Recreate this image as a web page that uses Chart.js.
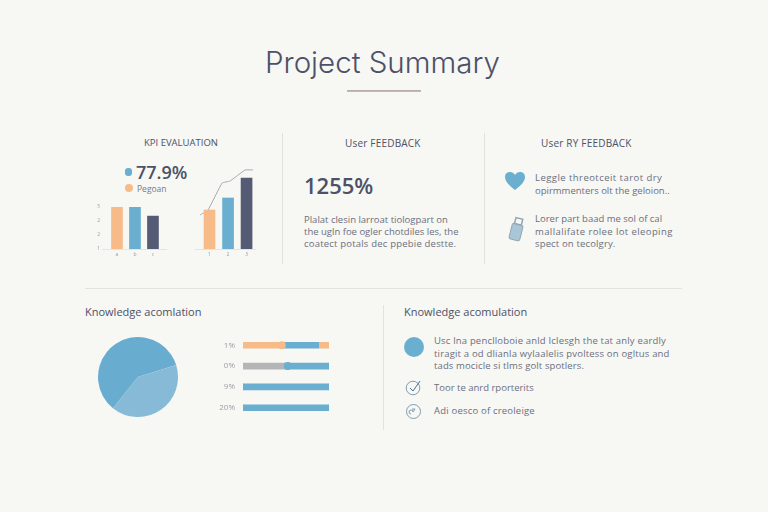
<!DOCTYPE html>
<html>
<head>
<meta charset="utf-8">
<script src="https://cdn.jsdelivr.net/npm/chart.js@4"></script>
<style>
html, body { margin: 0; padding: 0; background: #f7f7f3; }
#page { position: relative; width: 768px; height: 512px; overflow: hidden; background: #f7f7f3; font-family: 'Open Sans', sans-serif; color: #4c5168; }
.t { position: absolute; white-space: nowrap; line-height: 1; }
.rule { position: absolute; background: #e2e2e0; }
canvas { position: absolute; }
svg { position: absolute; }
</style>
</head>
<body>
<div id="page">
  <div class="t" style="left:265px;top:48px;font-family:Inter,sans-serif;font-size:29.5px;font-weight:300;">Project Summary</div>
  <div class="rule" style="left:347px;top:90px;width:74px;height:2px;background:linear-gradient(#a9a9b4,#f0b78a);"></div>

  <div class="t" style="left:144px;top:138px;font-size:9.5px;">KPI EVALUATION</div>
  <div class="t" style="left:345px;top:138px;font-size:10px;letter-spacing:.2px;">User FEEDBACK</div>
  <div class="t" style="left:541px;top:138px;font-size:10px;letter-spacing:.2px;">User RY FEEDBACK</div>

  <div class="rule" style="left:282px;top:133px;width:1px;height:131px;"></div>
  <div class="rule" style="left:484px;top:133px;width:1px;height:131px;"></div>
  <div class="rule" style="left:85px;top:288px;width:597px;height:1px;"></div>
  <div class="rule" style="left:383px;top:305px;width:1px;height:125px;"></div>

  <div style="position:absolute;left:125px;top:168px;width:7px;height:8px;border-radius:3px;background:#6aafcf;"></div>
  <div class="t" style="left:136px;top:163px;font-size:18px;font-weight:600;">77.9%</div>
  <div style="position:absolute;left:125px;top:184px;width:8px;height:8px;border-radius:4px;background:#f6bb88;"></div>
  <div class="t" style="left:137px;top:185px;font-size:8.5px;color:#777b8c;">Pegoan</div>

  <canvas id="chartKpiA" style="left:88px;top:197px;width:79px;height:66px;"></canvas>
  <canvas id="chartKpiB" style="left:195px;top:160px;width:61px;height:103px;"></canvas>

  <div class="t" style="left:304px;top:174px;font-size:22px;font-weight:600;">1255%</div>
  <div class="t" style="left:304px;top:215px;font-size:9.5px;color:#6b6f80;">Plalat clesin larroat tiologpart on</div>
  <div class="t" style="left:304px;top:227px;font-size:9.5px;color:#6b6f80;">the ugln foe ogler chotdiles les, the</div>
  <div class="t" style="left:304px;top:239px;font-size:9.5px;color:#6b6f80;letter-spacing:.2px;">coatect potals dec ppebie destte.</div>

  <svg style="left:504px;top:171px;" width="22" height="20" viewBox="0 0 22 20"><path d="M11 19 C6 15 1 11 1 6 C1 2 4 1 6 1 C8 1 10 2 11 4 C12 2 14 1 16 1 C18 1 21 2 21 6 C21 11 16 15 11 19 Z" fill="#6aafcf"/></svg>
  <div class="t" style="left:535px;top:173px;font-size:9.5px;color:#6b6f80;letter-spacing:.45px;">Leggle threotceit tarot dry</div>
  <div class="t" style="left:535px;top:186px;font-size:9.5px;color:#6b6f80;">opirmmenters olt the geloion..</div>

  <svg style="left:505px;top:216px;" width="22" height="28" viewBox="0 0 22 28"><g transform="rotate(14 11 14)"><rect x="6" y="8" width="11" height="16" rx="2" fill="#a9c6d6" stroke="#93a6b4" stroke-width="1"/><rect x="8" y="2" width="7" height="6" fill="none" stroke="#93a6b4" stroke-width="1.5"/></g></svg>
  <div class="t" style="left:535px;top:214px;font-size:9.5px;color:#6b6f80;">Lorer part baad me sol of cal</div>
  <div class="t" style="left:535px;top:227px;font-size:9.5px;color:#6b6f80;letter-spacing:.4px;">mallalifate rolee lot eleoping</div>
  <div class="t" style="left:535px;top:239px;font-size:9.5px;color:#6b6f80;letter-spacing:.15px;">spect on tecolgry.</div>

  <div class="t" style="left:85px;top:306px;font-size:11px;">Knowledge acomlation</div>
  <div class="t" style="left:404px;top:306px;font-size:11px;">Knowledge acomulation</div>

  <canvas id="chartShare" style="left:88px;top:327px;width:100px;height:100px;"></canvas>
  <canvas id="chartProgress" style="left:215px;top:322px;width:120px;height:109px;"></canvas>

  <div style="position:absolute;left:404px;top:337px;width:20px;height:20px;border-radius:10px;background:#6aafcf;"></div>
  <div class="t" style="left:434px;top:336px;font-size:9.5px;color:#6b6f80;letter-spacing:.18px;">Usc lna penclloboie anld Iclesgh the tat anly eardly</div>
  <div class="t" style="left:434px;top:349px;font-size:9.5px;color:#6b6f80;letter-spacing:.18px;">tiragit a od dlianla wylaalelis pvoltess on ogltus and</div>
  <div class="t" style="left:434px;top:361px;font-size:9.5px;color:#6b6f80;letter-spacing:.12px;">tads mocicle si tlms golt spotlers.</div>

  <svg style="left:405px;top:379px;" width="18" height="17" viewBox="0 0 18 17"><circle cx="8" cy="9" r="6.8" fill="none" stroke="#7f9db5" stroke-width="1"/><path d="M5 9 L8 12 L15 2" fill="none" stroke="#4f6f8c" stroke-width="1"/></svg>
  <div class="t" style="left:434px;top:383px;font-size:9.5px;color:#6b6f80;">Toor te anrd rporterits</div>
  <svg style="left:405px;top:403px;" width="17" height="17" viewBox="0 0 17 17"><circle cx="8.5" cy="8.5" r="7" fill="none" stroke="#7f9db5" stroke-width="1"/><path d="M7 6 H10 L8 9 A2 2 0 1 0 6 11" fill="none" stroke="#7f9db5" stroke-width="1"/></svg>
  <div class="t" style="left:434px;top:406px;font-size:9.5px;color:#6b6f80;letter-spacing:.2px;">Adi oesco of creoleige</div>
</div>

<script>
const kpiXA = [1, 2, 3];
const kpiValuesA = [3, 3, 2.35];
const kpiTickLabelsA = ['a', 'b', 'c'];
const kpiTicksA = ['1', '2', '2', '5'];
const kpiBarColors = ['#f6bb88', '#6aafcf', '#565b75'];

const kpiXB = [1, 2, 3];
const kpiValuesB = [39, 51, 71];
const kpiTickLabelsB = ['1', '2', '3'];
const trendX = [0.49, 0.92, 1.68, 2.11, 2.92, 3.35];
const trendY = [34, 39, 66, 68, 79, 79];

const shareLabels = ['Main', 'Other'];
const shareValues = [59.4, 40.6];
const shareColors = ['#68add0', '#87bad7'];

const progressLabels = ['1%', '0%', '9%', '20%'];
const progressFirst = [45, 49, 0, 0];
const progressSecond = [43, 51, 100, 100];
const progressThird = [12, 0, 0, 0];
const progressFirstColors = ['#f6bb88', '#b5b5b8', '#6aafcf', '#6aafcf'];
const progressThirdColors = ['#f6bb88', '#6aafcf', '#6aafcf', '#6aafcf'];
const progressKnobs = [45, 52, null, null];
const progressKnobColors = ['#f6bb88', '#6aafcf'];

const tickGray = '#9a9da8';
Chart.defaults.font.family = "'Open Sans', sans-serif";
Chart.defaults.animation = false;
Chart.defaults.responsive = false;
Chart.defaults.devicePixelRatio = 1;
Chart.defaults.plugins.legend.display = false;
Chart.defaults.plugins.tooltip.enabled = false;

function sizeCanvas(id) {
  const c = document.getElementById(id);
  c.width = parseInt(c.style.width);
  c.height = parseInt(c.style.height);
  return c;
}

const knobPlugin = {
  id: 'knobs',
  afterDatasetsDraw(chart) {
    const { ctx, scales: { x, y } } = chart;
    progressKnobs.forEach((v, i) => {
      if (v === null) return;
      ctx.beginPath();
      ctx.arc(x.getPixelForValue(v), y.getPixelForValue(i), 4, 0, Math.PI * 2);
      ctx.fillStyle = progressKnobColors[i];
      ctx.fill();
    });
  }
};

function xAxis(min, max, labels) {
  return {
    type: 'linear', offset: false, min, max,
    border: { color: '#e4e4e2' }, grid: { display: false, drawTicks: false },
    afterFit(s) { s.height = 14; },
    ticks: { stepSize: 1, includeBounds: false, autoSkip: false, maxRotation: 0, color: tickGray, font: { size: 5 }, padding: 3,
      callback: (v) => labels[v - 1] || '' }
  };
}

new Chart(sizeCanvas('chartKpiA'), {
  data: { datasets: [{ type: 'bar', data: kpiXA.map((x, i) => ({ x, y: kpiValuesA[i] })), backgroundColor: kpiBarColors, barThickness: 11 }] },
  options: {
    maintainAspectRatio: false,
    layout: { padding: { top: 10 } },
    scales: {
      y: { min: 0, max: 3, border: { display: false }, grid: { display: false, drawTicks: false },
        afterFit(s) { s.width = 14; },
        ticks: { stepSize: 1, color: tickGray, font: { size: 5 }, padding: 2, callback: (v) => kpiTicksA[v] } },
      x: xAxis(0.167, 3.78, kpiTickLabelsA)
    }
  }
});

new Chart(sizeCanvas('chartKpiB'), {
  data: {
    datasets: [
      { type: 'bar', data: kpiXB.map((x, i) => ({ x, y: kpiValuesB[i] })), backgroundColor: kpiBarColors, barThickness: 11 },
      { type: 'line', data: trendX.map((x, i) => ({ x, y: trendY[i] })), borderColor: '#a9a9ae', borderWidth: 1, pointRadius: 0, tension: 0.1 }
    ]
  },
  options: {
    maintainAspectRatio: false,
    scales: {
      y: { display: false, min: 0, max: 89 },
      x: xAxis(0.216, 3.51, kpiTickLabelsB)
    }
  }
});

new Chart(sizeCanvas('chartShare'), {
  type: 'pie',
  data: { labels: shareLabels, datasets: [{ data: shareValues, backgroundColor: shareColors, borderWidth: 0 }] },
  options: { maintainAspectRatio: false, rotation: 218.8, layout: { padding: 10 } }
});

new Chart(sizeCanvas('chartProgress'), {
  type: 'bar',
  plugins: [knobPlugin],
  data: {
    labels: progressLabels,
    datasets: [
      { data: progressFirst, backgroundColor: progressFirstColors, barThickness: 6 },
      { data: progressSecond, backgroundColor: '#6aafcf', barThickness: 6 },
      { data: progressThird, backgroundColor: progressThirdColors, barThickness: 6 }
    ]
  },
  options: {
    indexAxis: 'y',
    maintainAspectRatio: false,
    layout: { padding: { right: 6 } },
    scales: {
      x: { display: false, stacked: true, min: 0, max: 100 },
      y: { stacked: true, border: { display: false }, grid: { display: false, drawTicks: false },
        afterFit(s) { s.width = 28; },
        ticks: { color: tickGray, font: { size: 8 }, padding: 8 } }
    }
  }
});
</script>
</body>
</html>
